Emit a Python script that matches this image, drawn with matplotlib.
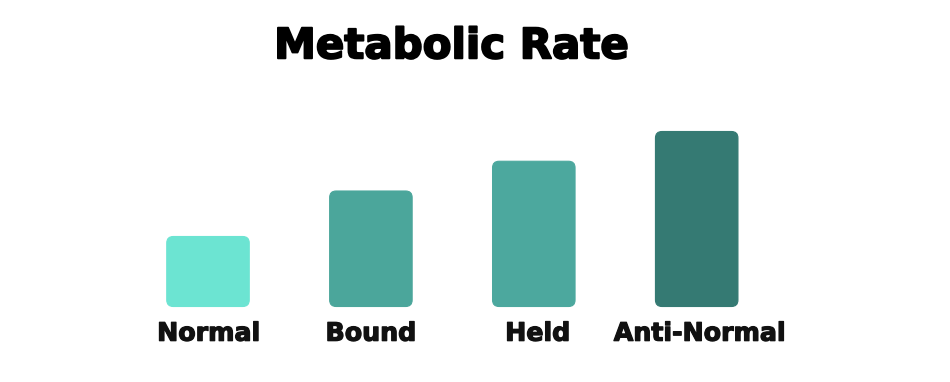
import matplotlib
matplotlib.use("Agg")
import matplotlib.pyplot as plt
from matplotlib.patches import FancyBboxPatch
import matplotlib.patheffects as pe

categories = ["Normal", "Bound", "Held", "Anti-Normal"]
values = [40, 66, 83, 100]
colors = ["#6CE4D2", "#4BA69B", "#4CA89E", "#357A73"]
title = "Metabolic Rate"

W, H = 950, 382
fig = plt.figure(figsize=(W / 100, H / 100), dpi=100)
fig.patch.set_facecolor("white")
ax = fig.add_axes([0, 0, 1, 1])
ax.set_facecolor("white")
ax.axis("off")

# layout: x_px = 208 + 162.9*i ; baseline at 306.5px from top, 100 units -> 175px
px_per_x = 162.9
px_per_y = 1.75
x0 = 208.0
ax.set_xlim(-x0 / px_per_x, (W - x0) / px_per_x)
ybot = 382 - 306.5
ax.set_ylim(-ybot / px_per_y, (H - ybot) / px_per_y)

bars = ax.bar(range(len(categories)), values, width=82.5 / px_per_x, color=colors)
aspect = px_per_x / px_per_y
r = 6.5 / px_per_x
for b, c in zip(bars, colors):
    x, y = b.get_x(), b.get_y()
    w, h = b.get_width(), b.get_height()
    b.remove()
    fb = FancyBboxPatch((x, y), w, h,
                        boxstyle=f"round,pad=0,rounding_size={r}",
                        mutation_aspect=aspect,
                        facecolor=c, edgecolor=c, linewidth=0.8)
    ax.add_patch(fb)

label_nudge_px = [0.7, 0, 4, 3]
lab_y = 1 - 340.7 / H
for i, cat in enumerate(categories):
    xp = (x0 + px_per_x * i + label_nudge_px[i]) / W
    fig.text(xp, lab_y, cat, ha="center", va="baseline",
             fontsize=18.2, fontweight="bold", color="#111111",
             family="DejaVu Sans",
             path_effects=[pe.withStroke(linewidth=0.9, foreground="#111111")])

fig.text(451 / W, 1 - 58.3 / H, title, ha="center", va="baseline",
         fontsize=30.2, fontweight="bold", color="#000000",
         family="DejaVu Sans",
         path_effects=[pe.withStroke(linewidth=1.4, foreground="#000000")])

fig.savefig("out.png", dpi=100, facecolor="white")
